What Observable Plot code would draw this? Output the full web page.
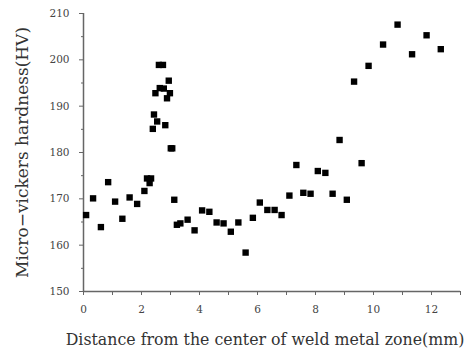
<!DOCTYPE html>
<html>
<head>
<meta charset="utf-8">
<script src="https://cdn.jsdelivr.net/npm/d3@7"></script>
<script src="https://cdn.jsdelivr.net/npm/@observablehq/plot@0.6"></script>
<style>
  html, body { margin: 0; padding: 0; background: #fff; }
</style>
</head>
<body>
<div id="chart"></div>
<script>
const distance = [0.09, 0.33, 0.60, 0.85, 1.09, 1.34, 1.59, 1.85, 2.10, 2.19, 2.33, 2.28,
  2.39, 2.43, 2.54, 2.48, 2.60, 2.74, 2.63, 2.77, 2.82, 2.88, 2.94, 2.98, 3.01, 3.06,
  3.13, 3.22, 3.34, 3.59, 3.83, 4.09, 4.34, 4.59, 4.83, 5.08, 5.34, 5.59, 5.84, 6.08,
  6.34, 6.59, 6.83, 7.10, 7.34, 7.58, 7.83, 8.08, 8.34, 8.59, 8.83, 9.08, 9.33, 9.59,
  9.83, 10.33, 10.83, 11.33, 11.83, 12.32];
const hardness = [166.5, 170.1, 163.9, 173.6, 169.4, 165.7, 170.3, 168.9, 171.7, 174.4, 174.4, 173.4,
  185.1, 188.2, 186.7, 192.8, 198.9, 198.9, 193.9, 193.8, 185.9, 191.7, 195.5, 192.8, 180.9, 180.9,
  169.8, 164.4, 164.7, 165.5, 163.2, 167.5, 167.2, 164.9, 164.7, 162.9, 164.9, 158.4, 165.9, 169.2,
  167.6, 167.6, 166.5, 170.7, 177.3, 171.3, 171.1, 176.0, 175.6, 171.1, 182.7, 169.8, 195.3, 177.7,
  198.7, 203.3, 207.6, 201.2, 205.3, 202.3];
const xMajorTicks = [0, 2, 4, 6, 8, 10, 12];
const xMinorTicks = [1, 3, 5, 7, 9, 11, 13];
const yMajorTicks = [150, 160, 170, 180, 190, 200, 210];
const yMinorTicks = [155, 165, 175, 185, 195, 205];
const xLabel = "Distance from the center of weld metal zone(mm)";
const yLabel = "Micro\u2212vickers hardness(HV)";

const data = distance.map((d, i) => ({distance: d, hardness: hardness[i]}));
const axisColor = "#666";
const textColor = "#444";

const chart = Plot.plot({
  width: 471,
  height: 350,
  marginLeft: 83,
  marginRight: 11,
  marginTop: 13,
  marginBottom: 59,
  style: {fontFamily: "'DejaVu Serif', serif", background: "#fff", color: textColor},
  x: {domain: [0, 13]},
  y: {domain: [150, 210]},
  marks: [
    Plot.axisY({ticks: yMajorTicks, tickSize: 4, tickPadding: 10, fontSize: 10.5, label: null, stroke: axisColor, fill: textColor}),
    Plot.axisY({ticks: yMinorTicks, tickSize: 2, tickFormat: () => "", label: null, stroke: axisColor}),
    Plot.axisX({ticks: xMajorTicks, tickSize: 4, tickPadding: 10, fontSize: 10.5, label: null, stroke: axisColor, fill: textColor}),
    Plot.axisX({ticks: xMinorTicks, tickSize: 4, tickFormat: () => "", label: null, stroke: axisColor}),
    Plot.ruleX([0], {stroke: axisColor, strokeWidth: 1.5}),
    Plot.ruleY([150], {stroke: axisColor, strokeWidth: 1.5}),
    Plot.dot(data, {x: "distance", y: "hardness", symbol: "square", r: 3.6, fill: "#000", stroke: "none"}),
    Plot.text([xLabel], {frameAnchor: "bottom", textAnchor: "middle", lineAnchor: "middle", dy: 48, dx: -7, fontSize: 15.8, fill: "#333"}),
    Plot.text([yLabel], {frameAnchor: "left", textAnchor: "middle", lineAnchor: "middle", rotate: -90, dx: -61, dy: 0, fontSize: 17, fill: "#333"})
  ]
});
document.getElementById("chart").appendChild(chart);
</script>
</body>
</html>
